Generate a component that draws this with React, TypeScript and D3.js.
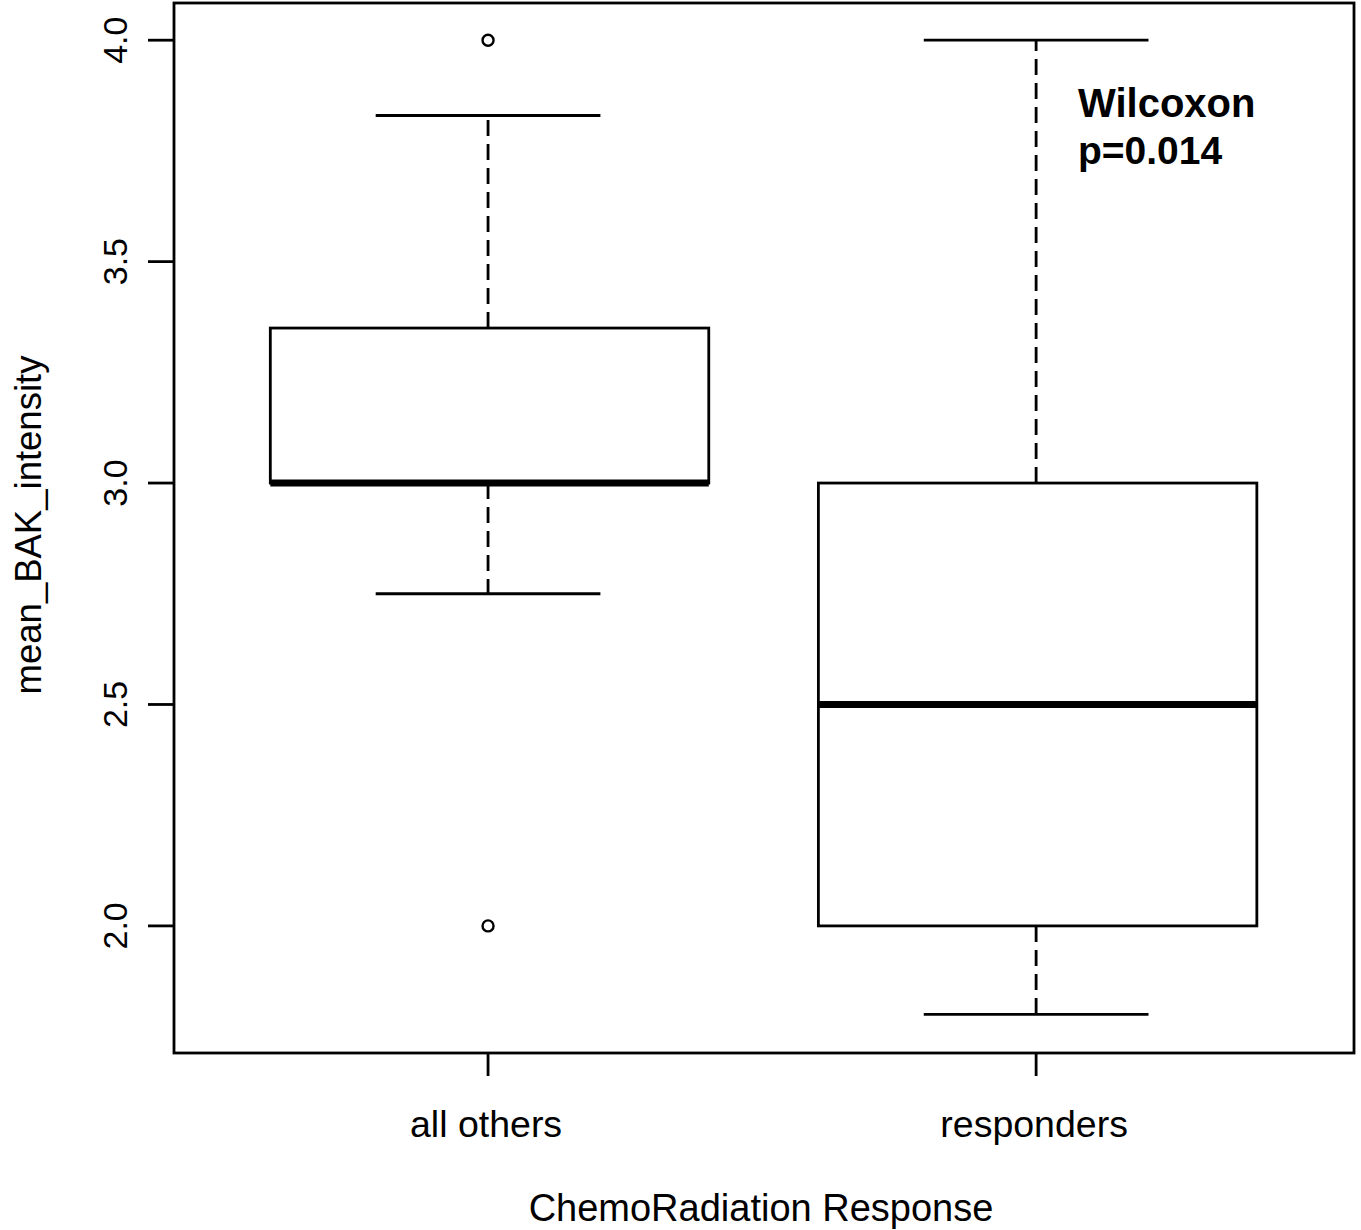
import React from 'react';
import * as d3 from 'd3';

// box summaries
const categories = ['all others', 'responders'];
const whiskerLow = [2.75, 1.8];
const q1 = [3.0, 2.0];
const median = [3.0, 2.5];
const q3 = [3.35, 3.0];
const whiskerHigh = [3.83, 4.0];
const outliers = [[4.0, 2.0], []];
const yTicks = [2.0, 2.5, 3.0, 3.5, 4.0];

const W = 1361;
const H = 1230;
const left = 174, right = 1354, top = 3, bottom = 1053;
const font = '"Liberation Sans", Arial, sans-serif';

const App = () => {
  const x = d3.scaleLinear().domain([0.427, 2.58]).range([left, right]);
  const y = d3.scaleLinear().domain([1.713, 4.084]).range([bottom, top]);
  const unit = x(2) - x(1);
  const boxHalf = 0.4 * unit;
  const capHalf = 0.205 * unit;

  return (
    <svg width={W} height={H} style={{ display: 'block', position: 'absolute', left: 0, top: 0, background: '#fff' }}>
      <rect x={0} y={0} width={W} height={H} fill="#fff" />
      {categories.map((c, i) => {
        const cx = x(i + 1);
        return (
          <g key={c}>
            <line x1={cx} x2={cx} y1={y(q3[i])} y2={y(whiskerHigh[i])} stroke="#000" strokeWidth={2.8} strokeDasharray="16 8" />
            <line x1={cx} x2={cx} y1={y(q1[i])} y2={y(whiskerLow[i])} stroke="#000" strokeWidth={2.8} strokeDasharray="16 8" />
            <line x1={cx - capHalf} x2={cx + capHalf} y1={y(whiskerHigh[i])} y2={y(whiskerHigh[i])} stroke="#000" strokeWidth={2.8} />
            <line x1={cx - capHalf} x2={cx + capHalf} y1={y(whiskerLow[i])} y2={y(whiskerLow[i])} stroke="#000" strokeWidth={2.8} />
            <rect x={cx - boxHalf + 1.5} y={y(q3[i])} width={2 * boxHalf} height={y(q1[i]) - y(q3[i])} fill="#fff" stroke="#000" strokeWidth={2.8} />
            <line x1={cx - boxHalf + 1.5} x2={cx + boxHalf + 1.5} y1={y(median[i])} y2={y(median[i])} stroke="#000" strokeWidth={7} />
            {outliers[i].map((v, j) => (
              <circle key={j} cx={cx} cy={y(v)} r={5.5} fill="none" stroke="#000" strokeWidth={2.4} />
            ))}
            <line x1={cx} x2={cx} y1={bottom} y2={bottom + 23} stroke="#000" strokeWidth={2.8} />
            <text x={cx - 2} y={1137} textAnchor="middle" fontFamily={font} fontSize={37.5} fill="#000">{c}</text>
          </g>
        );
      })}
      {yTicks.map((t) => (
        <g key={t}>
          <line x1={left - 26} x2={left} y1={y(t)} y2={y(t)} stroke="#000" strokeWidth={2.8} />
          <text transform={`translate(127,${y(t)}) rotate(-90)`} textAnchor="middle" fontFamily={font} fontSize={34} fill="#000">{t.toFixed(1)}</text>
        </g>
      ))}
      <rect x={left} y={top} width={right - left} height={bottom - top} fill="none" stroke="#000" strokeWidth={2.8} />
      <text transform={`translate(41,525) rotate(-90)`} textAnchor="middle" fontFamily={font} fontSize={36.5} fill="#000">mean_BAK_intensity</text>
      <text x={761} y={1221} textAnchor="middle" fontFamily={font} fontSize={38} fill="#000">ChemoRadiation Response</text>
      <text x={1078} y={117} fontFamily={font} fontSize={40} fontWeight="bold" fill="#000">Wilcoxon</text>
      <text x={1078} y={164} fontFamily={font} fontSize={39} fontWeight="bold" fill="#000">p=0.014</text>
    </svg>
  );
};

export default App;
